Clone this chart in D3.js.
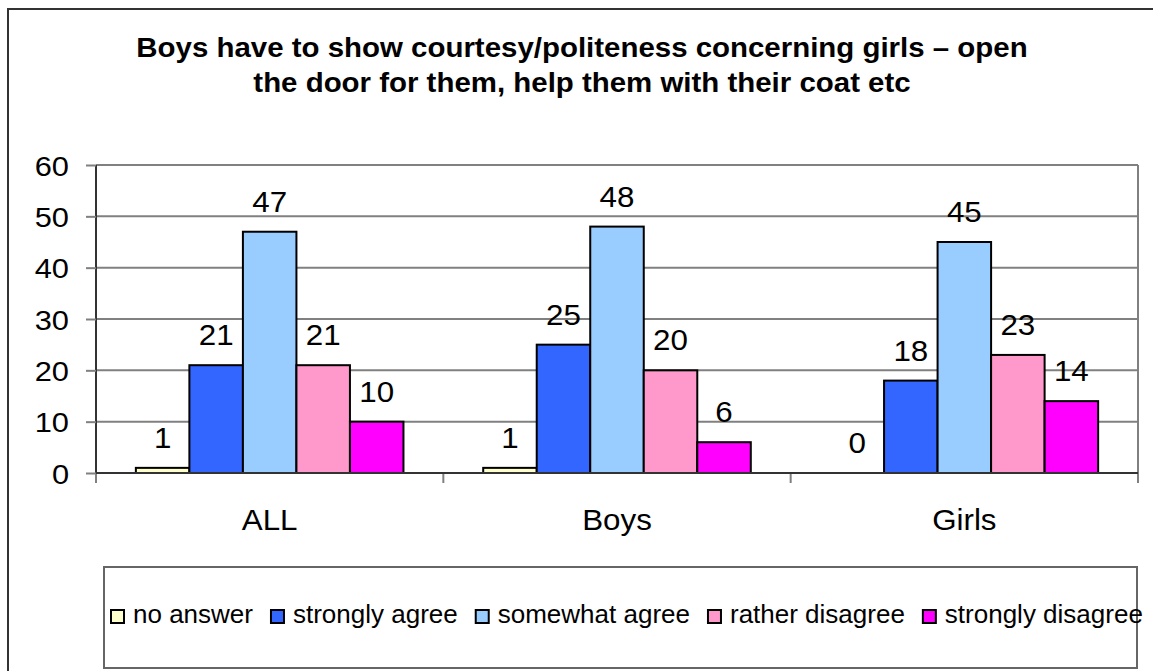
<!DOCTYPE html>
<html>
<head>
<meta charset="utf-8">
<script src="https://cdn.jsdelivr.net/npm/d3@7"></script>
<style>
  html, body { margin: 0; padding: 0; background: #fff; }
  svg { display: block; font-family: "Liberation Sans", Arial, sans-serif; }
</style>
</head>
<body>
<svg id="chart" width="1153" height="671"></svg>
<script>
// ---- data ----
const titleLines = ["Boys have to show courtesy/politeness concerning girls \u2013 open",
                    "the door for them, help them with their coat etc"];
const categories = ["ALL", "Boys", "Girls"];
const seriesNames = ["no answer", "strongly agree", "somewhat agree", "rather disagree", "strongly disagree"];
const noAnswer = [1, 1, 0];
const stronglyAgree = [21, 25, 18];
const somewhatAgree = [47, 48, 45];
const ratherDisagree = [21, 20, 23];
const stronglyDisagree = [10, 6, 14];
const seriesColors = ["#FFFFCC", "#3366FF", "#99CCFF", "#FF99CC", "#FF00FF"];
const yTicks = [0, 10, 20, 30, 40, 50, 60];

const seriesValues = [noAnswer, stronglyAgree, somewhatAgree, ratherDisagree, stronglyDisagree];

// ---- layout ----
const svg = d3.select("#chart");
const plot = { left: 96, right: 1138, top: 165, bottom: 473 };

// stretch helper: widen text glyphs horizontally
function stretch(sel, k) {
  sel.each(function () {
    const w = this.getComputedTextLength();
    d3.select(this).attr("textLength", w * k).attr("lengthAdjust", "spacingAndGlyphs");
  });
}

// outer frame
svg.append("rect")
  .attr("x", 8).attr("y", 9).attr("width", 1160).attr("height", 680)
  .attr("fill", "#fff").attr("stroke", "#333").attr("stroke-width", 2);

// title
const title = svg.append("g");
titleLines.forEach((t, i) => {
  title.append("text")
    .attr("x", 582).attr("y", 57 + i * 35)
    .attr("text-anchor", "middle")
    .attr("font-size", 27).attr("font-weight", "bold").attr("fill", "#000")
    .text(t);
});
stretch(title.selectAll("text"), 1.09);

// scales
const x0 = d3.scaleBand().domain(categories).range([plot.left, plot.right]).padding(0);
const x1 = d3.scaleBand().domain(seriesNames).range([0, x0.bandwidth()])
  .paddingInner(0).paddingOuter(0.745);
const y = d3.scaleLinear().domain([0, 60]).range([plot.bottom, plot.top]);

// gridlines
svg.append("g").selectAll("line").data(yTicks.filter(d => d > 0)).join("line")
  .attr("x1", plot.left).attr("x2", plot.right)
  .attr("y1", d => y(d)).attr("y2", d => y(d))
  .attr("stroke", "#808080").attr("stroke-width", 2);

// right border of plot area
svg.append("line")
  .attr("x1", plot.right).attr("x2", plot.right)
  .attr("y1", plot.top).attr("y2", plot.bottom)
  .attr("stroke", "#808080").attr("stroke-width", 2);

// y axis
const yAxis = svg.append("g")
  .attr("transform", `translate(${plot.left},0)`)
  .call(d3.axisLeft(y).tickValues(yTicks).tickSize(10).tickPadding(17).tickFormat(d3.format("d")));
yAxis.select(".domain").attr("stroke", "#333").attr("stroke-width", 2)
  .attr("d", `M0,${plot.top}V${plot.bottom + 10}`);
yAxis.selectAll(".tick line").attr("stroke", "#808080").attr("stroke-width", 2);
yAxis.selectAll(".tick text")
  .attr("font-size", 28).attr("fill", "#000")
  .attr("font-family", "'Liberation Sans', Arial, sans-serif")
  .attr("dy", "0.36em");
stretch(yAxis.selectAll(".tick text"), 1.1);

// x axis
const xAxis = svg.append("g")
  .attr("transform", `translate(0,${plot.bottom})`)
  .call(d3.axisBottom(x0).tickSize(0).tickPadding(0));
xAxis.select(".domain").attr("stroke", "#333").attr("stroke-width", 2)
  .attr("d", `M${plot.left},0H${plot.right}`);
xAxis.selectAll(".tick text")
  .attr("font-size", 29).attr("fill", "#000")
  .attr("font-family", "'Liberation Sans', Arial, sans-serif")
  .attr("y", 57).attr("dy", 0);
stretch(xAxis.selectAll(".tick text"), 1.08);
// category separator ticks
const sepPositions = categories.map(c => x0(c)).concat([x0(categories[categories.length - 1]) + x0.bandwidth()]);
xAxis.append("g").selectAll("line").data(sepPositions).join("line")
  .attr("x1", d => d).attr("x2", d => d).attr("y1", 0).attr("y2", 10)
  .attr("stroke", "#808080").attr("stroke-width", 2);

// bars
const barData = [];
categories.forEach((c, ci) => {
  seriesNames.forEach((s, si) => {
    barData.push({ cat: c, series: s, value: seriesValues[si][ci], color: seriesColors[si] });
  });
});

const bars = svg.append("g");
bars.selectAll("rect").data(barData.filter(d => d.value > 0)).join("rect")
  .attr("x", d => x0(d.cat) + x1(d.series))
  .attr("y", d => y(d.value))
  .attr("width", x1.bandwidth())
  .attr("height", d => y(0) - y(d.value))
  .attr("fill", d => d.color)
  .attr("stroke", "#000").attr("stroke-width", 2);

// redraw baseline on top
svg.append("line")
  .attr("x1", plot.left).attr("x2", plot.right)
  .attr("y1", plot.bottom).attr("y2", plot.bottom)
  .attr("stroke", "#333").attr("stroke-width", 2);

// value labels
const labels = svg.append("g");
labels.selectAll("text").data(barData).join("text")
  .attr("x", d => x0(d.cat) + x1(d.series) + x1.bandwidth() / 2)
  .attr("y", d => y(d.value) - 20)
  .attr("text-anchor", "middle")
  .attr("font-size", 29).attr("fill", "#000")
  .text(d => d.value);
stretch(labels.selectAll("text"), 1.08);

// legend
const legend = svg.append("g");
legend.append("rect")
  .attr("x", 104).attr("y", 567).attr("width", 1033).attr("height", 101)
  .attr("fill", "#fff").attr("stroke", "#666").attr("stroke-width", 2);

let lx = 111;
seriesNames.forEach((s, i) => {
  legend.append("rect")
    .attr("x", lx).attr("y", 610).attr("width", 13).attr("height", 13)
    .attr("fill", seriesColors[i]).attr("stroke", "#000").attr("stroke-width", 2);
  const t = legend.append("text")
    .attr("x", lx + 22).attr("y", 623)
    .attr("font-size", 26).attr("fill", "#000")
    .text(s);
  const w = t.node().getComputedTextLength();
  lx += 22 + w + 18;
});
</script>
</body>
</html>
